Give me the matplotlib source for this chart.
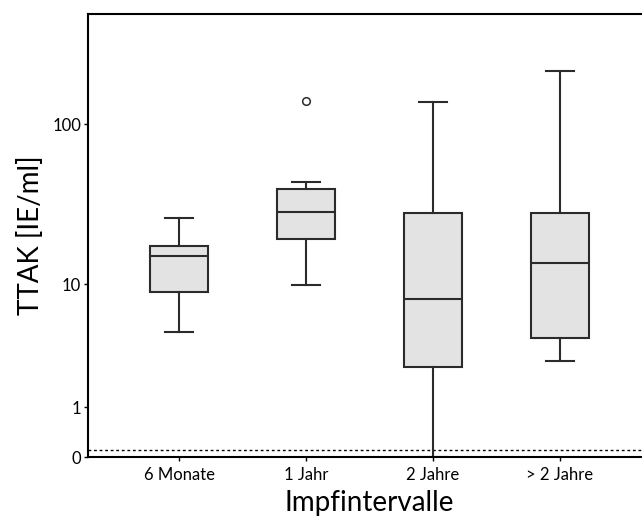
import numpy as np
import matplotlib
matplotlib.use("Agg")
import matplotlib.pyplot as plt

# box statistics (TTAK in IE/ml)
groups = ["6 Monate", "1 Jahr", "2 Jahre", "> 2 Jahre"]
whisker_low = [4.7, 9.8, 0.0, 2.8]
q1 = [8.9, 19.6, 2.5, 4.2]
median = [15.2, 28.8, 7.95, 13.7]
q3 = [17.7, 40.3, 28.4, 28.4]
whisker_high = [26.4, 44.4, 137.0, 209.0]
outliers = [[], [139.0], [], []]
threshold = 0.1

EDGE = "#2b2b2b"
FILL = "#e3e3e3"

plt.rcParams["font.family"] = ["Lato", "DejaVu Sans"]


def forward(v):
    return np.log10(np.clip(v, 0, None) + 1)


def inverse(v):
    return 10 ** v - 1


fig = plt.figure(figsize=(6.42, 5.22), dpi=100)
ax = fig.add_axes([88 / 642, 65 / 522, 563 / 642, 443 / 522])

stats = []
for i, name in enumerate(groups):
    stats.append({
        "label": name,
        "whislo": whisker_low[i],
        "q1": q1[i],
        "med": median[i],
        "q3": q3[i],
        "whishi": whisker_high[i],
        "fliers": outliers[i],
    })

positions = np.arange(1, len(groups) + 1)
ax.set_yscale("function", functions=(forward, inverse))
ax.bxp(
    stats,
    positions=positions,
    widths=0.457,
    patch_artist=True,
    showfliers=True,
    boxprops=dict(facecolor=FILL, edgecolor=EDGE, linewidth=1.5),
    medianprops=dict(color=EDGE, linewidth=1.5),
    whiskerprops=dict(color=EDGE, linewidth=1.5),
    capprops=dict(color=EDGE, linewidth=1.5),
    capwidths=0.22,
    flierprops=dict(marker="o", markersize=5.5, markerfacecolor="white",
                    markeredgecolor=EDGE, markeredgewidth=1.1),
)

ax.axhline(threshold, color="black", linewidth=1.0, linestyle=(0, (2, 2)), zorder=0)

ax.set_ylim(0, 465)
ax.set_xlim(0.283, 4.717)
ax.set_yticks([0, 1, 10, 100])
ax.set_yticklabels(["0", "1", "10", "100"])
ax.set_xticks(positions)
ax.set_xticklabels(groups)
ax.tick_params(axis="both", direction="out", length=3, width=1.0, colors="black",
               labelsize=12)
ax.tick_params(axis="x", pad=4)
ax.tick_params(axis="y", pad=2)

for side in ["left", "bottom", "top", "right"]:
    ax.spines[side].set_linewidth(1.5)
    ax.spines[side].set_color("black")

ax.set_ylabel("TTAK [IE/ml]", fontsize=20, labelpad=6)
ax.set_xlabel("Impfintervalle", fontsize=20, labelpad=5)

fig.savefig("out.png", dpi=100, facecolor="white")
